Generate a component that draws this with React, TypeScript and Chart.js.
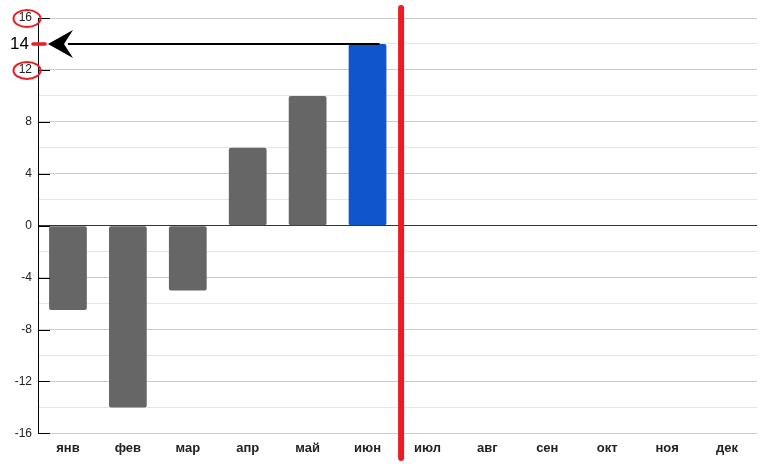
import React, { useEffect, useRef } from "react";
import { Chart, registerables } from "chart.js";

Chart.register(...registerables);

const months = ["янв", "фев", "мар", "апр", "май", "июн", "июл", "авг", "сен", "окт", "ноя", "дек"];
const values: (number | null)[] = [-6.5, -14, -5, 6, 10, 14, null, null, null, null, null, null];
const barColors = ["#666666", "#666666", "#666666", "#666666", "#666666", "#1155cc", "#666666", "#666666", "#666666", "#666666", "#666666", "#666666"];
const yMin = -16;
const yMax = 16;
const yStep = 2;
const majorStep = 4;
const highlightValue = 14;
const highlightIndex = 5;
const circledTicks = [16, 12];

const annotationPlugin = {
  id: "annot",
  afterDatasetsDraw(chart: any) {
    const { ctx, chartArea, scales } = chart;
    const x = scales.x;
    const y = scales.y;
    ctx.save();
    // short black ticks on major values
    ctx.strokeStyle = "#000";
    ctx.lineWidth = 1;
    for (let v = yMin; v <= yMax; v += majorStep) {
      const py = Math.round(y.getPixelForValue(v)) + 0.5;
      ctx.beginPath();
      ctx.moveTo(chartArea.left, py);
      ctx.lineTo(chartArea.left + 12, py);
      ctx.stroke();
    }
    // arrow line
    const ay = y.getPixelForValue(highlightValue);
    const tipX = chartArea.left + 10;
    ctx.strokeStyle = "#000";
    ctx.lineWidth = 2;
    ctx.beginPath();
    ctx.moveTo(x.getPixelForValue(highlightIndex) + 12, ay);
    ctx.lineTo(tipX + 20, ay);
    ctx.stroke();
    // arrowhead
    ctx.fillStyle = "#000";
    ctx.beginPath();
    ctx.moveTo(tipX, ay);
    ctx.lineTo(tipX + 25, ay - 14);
    ctx.lineTo(tipX + 16, ay);
    ctx.lineTo(tipX + 25, ay + 14);
    ctx.closePath();
    ctx.fill();
    // red dash near axis
    ctx.strokeStyle = "#ed1c24";
    ctx.lineCap = "round";
    ctx.lineWidth = 3.5;
    ctx.beginPath();
    ctx.moveTo(chartArea.left - 5, ay);
    ctx.lineTo(chartArea.left + 7, ay);
    ctx.stroke();
    // label 14
    ctx.fillStyle = "#000";
    ctx.font = "17px 'Liberation Sans', Arial, sans-serif";
    ctx.textAlign = "right";
    ctx.textBaseline = "middle";
    ctx.fillText(String(highlightValue), chartArea.left - 9, ay + 0.5);
    // ellipses around tick labels
    ctx.strokeStyle = "#ed1c24";
    ctx.lineWidth = 2;
    for (const v of circledTicks) {
      const py = y.getPixelForValue(v);
      ctx.beginPath();
      ctx.ellipse(chartArea.left - 11, py + 0.5, 13.5, 8.5, 0, 0, Math.PI * 2);
      ctx.stroke();
    }
    // red vertical divider
    const rx = x.getPixelForValue(highlightIndex + 0.56);
    ctx.strokeStyle = "#ed1c24";
    ctx.lineWidth = 6;
    ctx.lineCap = "round";
    ctx.beginPath();
    ctx.moveTo(rx, 8);
    ctx.lineTo(rx, chart.height - 10);
    ctx.stroke();
    ctx.restore();
  },
};

export default function App() {
  const ref = useRef<HTMLCanvasElement>(null);
  useEffect(() => {
    if (!ref.current) return;
    const chart = new Chart(ref.current, {
      type: "bar",
      data: {
        labels: months,
        datasets: [
          {
            data: values,
            backgroundColor: barColors,
            borderRadius: 2,
            borderSkipped: false,
            barPercentage: 0.63,
            categoryPercentage: 1,
          },
        ],
      },
      options: {
        animation: false,
        responsive: false,
        maintainAspectRatio: false,
        layout: { padding: { top: 18, right: 6, bottom: 5, left: 0 } },
        plugins: { legend: { display: false }, tooltip: { enabled: false } },
        scales: {
          x: {
            grid: { display: false, drawTicks: false },
            border: { display: false },
            ticks: {
              padding: 7,
              color: "#222",
              font: { family: "'Liberation Sans', Arial, sans-serif", size: 13, weight: "bold" },
            },
          },
          y: {
            min: yMin,
            max: yMax,
            afterFit(scale: any) {
              scale.width = 38;
            },
            grid: {
              drawTicks: false,
              color: (c: any) => {
                const v = c.tick ? c.tick.value : 0;
                if (v === 0) return "#333";
                return v % majorStep === 0 ? "#cccccc" : "#e6e6e6";
              },
            },
            border: { display: true, color: "#000", width: 1 },
            ticks: {
              stepSize: yStep,
              padding: 6,
              color: "#222",
              font: { family: "'Liberation Sans', Arial, sans-serif", size: 12 },
              callback: (v: any) => (Number(v) % majorStep === 0 ? String(v) : ""),
            },
          },
        },
      },
      plugins: [annotationPlugin],
    });
    return () => chart.destroy();
  }, []);
  return (
    <div style={{ position: "fixed", left: 0, top: 0, width: 763, height: 468, background: "#fff" }}>
      <canvas ref={ref} width={763} height={468} style={{ width: 763, height: 468 }} />
    </div>
  );
}
